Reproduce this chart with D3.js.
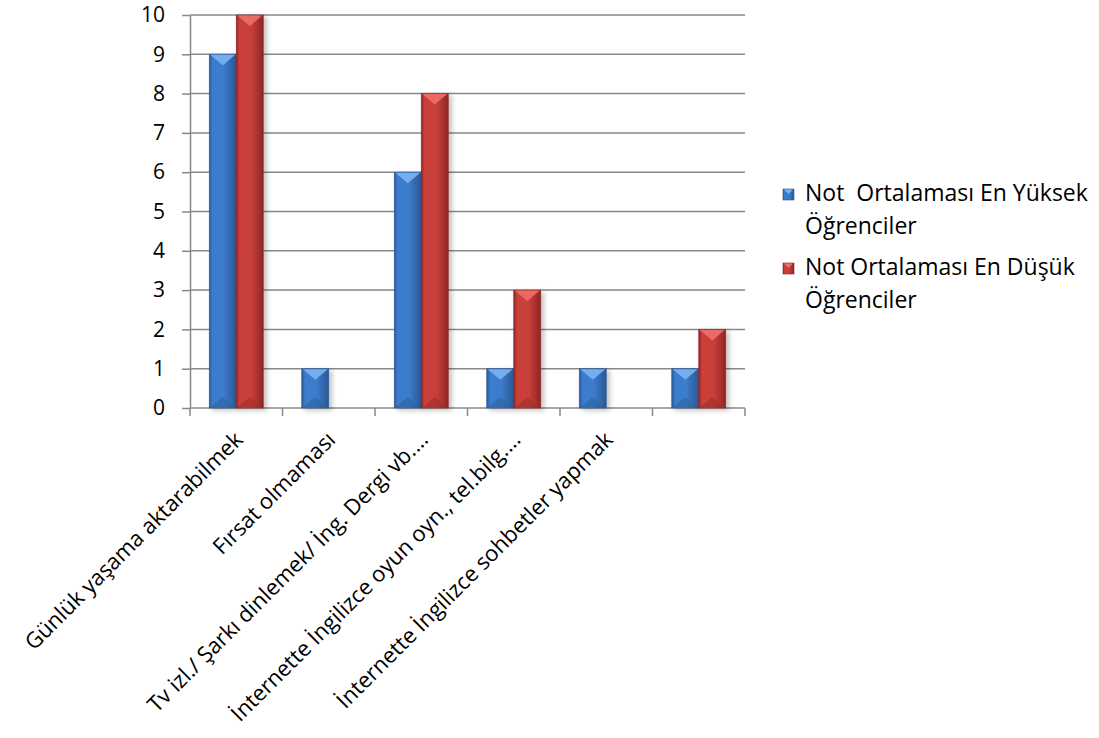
<!DOCTYPE html>
<html lang="tr">
<head>
<meta charset="utf-8">
<title>Grafik</title>
<script src="https://d3js.org/d3.v7.min.js"></script>
<style>
    body { margin: 0; background: #fff; }
    text { font-family: "Open Sans", Lato, sans-serif; fill: #000; }
    .grid line, .axis line, .axis path { stroke: #898989; stroke-width: 1.5; }
</style>
</head>
<body>
<div id="chart"></div>
<script>
// data
const categories = [
    "Günlük yaşama aktarabilmek",
    "Fırsat olmaması",
    "Tv izl./ Şarkı dinlemek/ İng. Dergi vb.…",
    "İnternette İngilizce oyun oyn., tel.bilg.…",
    "İnternette İngilizce sohbetler yapmak",
    ""
];
const highValues = [9, 1, 6, 1, 1, 1];
const lowValues = [10, 0, 8, 3, 0, 2];
const yTicks = [0, 1, 2, 3, 4, 5, 6, 7, 8, 9, 10];
const legendHigh = ["Not  Ortalaması En Yüksek", "Öğrenciler"];
const legendLow = ["Not Ortalaması En Düşük", "Öğrenciler"];

const W = 1099, H = 738;
const plot = {left: 190, right: 745, top: 15, bottom: 408};

const svg = d3.select("#chart").append("svg")
    .attr("width", W).attr("height", H);

const defs = svg.append("defs");

function sideGrad(id, dark, mid) {
    const g = defs.append("linearGradient").attr("id", id)
        .attr("x1", "0%").attr("x2", "100%").attr("y1", "0%").attr("y2", "0%");
    g.append("stop").attr("offset", "0%").attr("stop-color", dark);
    g.append("stop").attr("offset", "12%").attr("stop-color", mid);
    g.append("stop").attr("offset", "55%").attr("stop-color", mid);
    g.append("stop").attr("offset", "100%").attr("stop-color", dark);
}
sideGrad("gBlue", "#2a5793", "#3b7bcc");
sideGrad("gRed", "#8e2624", "#c93f3b");

const shadow = defs.append("filter").attr("id", "shadow")
    .attr("x", "-30%").attr("y", "-10%").attr("width", "170%").attr("height", "130%");
shadow.append("feDropShadow").attr("dx", 3).attr("dy", 2).attr("stdDeviation", 2.5)
    .attr("flood-color", "#000").attr("flood-opacity", 0.25);

const x = d3.scaleBand().domain(d3.range(categories.length))
    .range([plot.left, plot.right]).padding(0);
const y = d3.scaleLinear().domain([0, 10]).range([plot.bottom, plot.top]);

// gridlines
svg.append("g").attr("class", "grid")
    .selectAll("line").data(yTicks.filter(d => d > 0)).join("line")
    .attr("x1", plot.left).attr("x2", plot.right)
    .attr("y1", d => y(d)).attr("y2", d => y(d));

// y axis
const yAxis = svg.append("g").attr("class", "axis")
    .attr("transform", `translate(${plot.left},0)`)
    .call(d3.axisLeft(y).tickValues(yTicks).tickSize(8).tickPadding(17).tickSizeOuter(0));
yAxis.selectAll("text").style("font-size", "21px").style("fill", "#000")
    .style("font-family", "'Open Sans', sans-serif");

// x axis: line at zero with ticks between categories
const xg = svg.append("g").attr("class", "axis");
xg.append("line").attr("x1", plot.left).attr("x2", plot.right)
    .attr("y1", y(0)).attr("y2", y(0));
xg.selectAll("line.tk").data(d3.range(categories.length + 1)).join("line")
    .attr("class", "tk")
    .attr("x1", i => plot.left + i * x.bandwidth()).attr("x2", i => plot.left + i * x.bandwidth())
    .attr("y1", y(0)).attr("y2", y(0) + 8);

// bars
const barW = 27;
const bars = [];
categories.forEach((c, i) => {
    const cx = x(i) + x.bandwidth() / 2;
    bars.push({x: cx - barW, v: highValues[i], s: "blue"});
    bars.push({x: cx, v: lowValues[i], s: "red"});
});
const colors = {
    blue: {fill: "url(#gBlue)", top: "#7cb4f2", bot: "#2f629f", edge: "#2a5793"},
    red: {fill: "url(#gRed)", top: "#ef6f6a", bot: "#a02f2c", edge: "#8e2624"}
};

const bg = svg.append("g").selectAll("g").data(bars.filter(b => b.v > 0)).join("g");
bg.append("rect")
    .attr("x", d => d.x).attr("y", d => y(d.v))
    .attr("width", barW).attr("height", d => y(0) - y(d.v))
    .attr("fill", d => colors[d.s].fill)
    .attr("stroke", d => colors[d.s].edge).attr("stroke-width", 0.6)
    .attr("filter", "url(#shadow)");
bg.append("polygon")
    .attr("points", d => {
        const t = y(d.v);
        return [[d.x + 1, t + 0.5], [d.x + barW - 1, t + 0.5], [d.x + barW / 2, t + 11]].join(" ");
    })
    .attr("fill", d => colors[d.s].top).attr("opacity", 0.9);
bg.append("polygon")
    .attr("points", d => {
        const b = y(0);
        return [[d.x + 1, b - 0.5], [d.x + barW - 1, b - 0.5], [d.x + barW / 2, b - 11]].join(" ");
    })
    .attr("fill", d => colors[d.s].bot).attr("opacity", 0.6);

// category labels
svg.append("g").selectAll("text").data(categories).join("text")
    .attr("transform", (d, i) => `translate(${x(i) + x.bandwidth() / 2 + 8},${plot.bottom + 33}) rotate(-45)`)
    .attr("text-anchor", "end")
    .style("font-size", "22px")
    .text(d => d);

// legend
const legend = svg.append("g");
[{lines: legendHigh, c: colors.blue, y0: 201}, {lines: legendLow, c: colors.red, y0: 275}].forEach(item => {
    legend.append("rect").attr("x", 783).attr("y", item.y0 - 12)
        .attr("width", 11).attr("height", 11)
        .attr("fill", item.c === colors.blue ? "url(#gBlue)" : "url(#gRed)")
        .attr("stroke", item.c.edge).attr("stroke-width", 0.6);
    legend.append("polygon")
        .attr("points", [[784, item.y0 - 11.5], [793, item.y0 - 11.5], [788.5, item.y0 - 7]].join(" "))
        .attr("fill", item.c.top);
    item.lines.forEach((t, k) => {
        legend.append("text").attr("x", 805).attr("y", item.y0 + k * 33)
            .style("font-size", "23px").style("white-space", "pre")
            .text(t);
    });
});
</script>
</body>
</html>
